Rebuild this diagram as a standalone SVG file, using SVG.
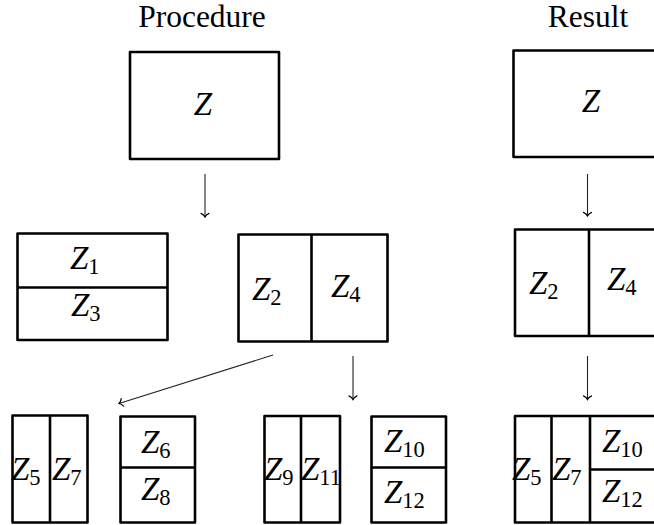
<svg xmlns="http://www.w3.org/2000/svg" width="654" height="525" viewBox="0 0 654 525">
  <defs>
    <style>
      .title { font-family: "Liberation Serif", "Times New Roman", serif; font-size: 31.5px; fill: #000; text-anchor: middle; }
      .lbl { font-family: "Liberation Serif", "Times New Roman", serif; font-size: 33px; fill: #000; }
      .m { font-style: italic; }
      .s { font-size: 22.5px; font-style: normal; }
      .box { fill: #fff; stroke: #000; stroke-width: 2.6; stroke-linejoin: round; }
      .div { stroke: #000; stroke-width: 2.6; fill: none; }
      .arr { stroke: #222; stroke-width: 1.1; fill: none; marker-end: url(#tip); }
    </style>
    <marker id="tip" viewBox="-5 -5 6 10" refX="0" refY="0" markerWidth="6" markerHeight="10" markerUnits="userSpaceOnUse" orient="auto">
      <path d="M-3.6,-4 C-2.6,-1.6 -1.1,-0.5 0,0 C-1.1,0.5 -2.6,1.6 -3.6,4" fill="none" stroke="#000" stroke-width="1.2" stroke-linecap="round"/>
    </marker>
  </defs>

  <rect width="654" height="525" fill="#fff"/>

  <!-- column headings -->
  <text class="title" x="202" y="27">Procedure</text>
  <text class="title" x="588" y="27">Result</text>

  <!-- procedure column -->
  <g id="z-root">
    <rect class="box" x="130" y="52" width="149" height="107"/>
    <text class="lbl" x="203" y="115" text-anchor="middle"><tspan class="m">Z</tspan></text>
  </g>

  <g id="z1-z3">
    <rect class="box" x="17.5" y="233.5" width="150" height="106.5"/>
    <line class="div" x1="17.5" y1="287.5" x2="167.5" y2="287.5"/>
    <text class="lbl" x="70" y="269"><tspan class="m">Z</tspan><tspan class="s" dy="4.5">1</tspan></text>
    <text class="lbl" x="71" y="316"><tspan class="m">Z</tspan><tspan class="s" dy="4.5">3</tspan></text>
  </g>

  <g id="z2-z4">
    <rect class="box" x="238.5" y="234.5" width="149" height="107"/>
    <line class="div" x1="311.5" y1="234.5" x2="311.5" y2="341.5"/>
    <text class="lbl" x="252" y="300"><tspan class="m">Z</tspan><tspan class="s" dy="4.5">2</tspan></text>
    <text class="lbl" x="331" y="297"><tspan class="m">Z</tspan><tspan class="s" dy="4.5">4</tspan></text>
  </g>

  <g id="z5-z7">
    <rect class="box" x="12.5" y="415.5" width="75" height="107"/>
    <line class="div" x1="50" y1="415.5" x2="50" y2="522.5"/>
    <text class="lbl" x="11" y="480"><tspan class="m">Z</tspan><tspan class="s" dy="4.5">5</tspan></text>
    <text class="lbl" x="52" y="480"><tspan class="m">Z</tspan><tspan class="s" dy="4.5">7</tspan></text>
  </g>

  <g id="z6-z8">
    <rect class="box" x="120.5" y="416.5" width="74.5" height="106"/>
    <line class="div" x1="120.5" y1="467.5" x2="195" y2="467.5"/>
    <text class="lbl" x="141" y="453"><tspan class="m">Z</tspan><tspan class="s" dy="4.5">6</tspan></text>
    <text class="lbl" x="141" y="500"><tspan class="m">Z</tspan><tspan class="s" dy="4.5">8</tspan></text>
  </g>

  <g id="z9-z11">
    <rect class="box" x="264.5" y="416" width="75.5" height="106.5"/>
    <line class="div" x1="301" y1="416" x2="301" y2="522.5"/>
    <text class="lbl" x="264" y="480"><tspan class="m">Z</tspan><tspan class="s" dy="4.5">9</tspan></text>
    <text class="lbl" x="301" y="480"><tspan class="m">Z</tspan><tspan class="s" dy="4.5">11</tspan></text>
  </g>

  <g id="z10-z12">
    <rect class="box" x="371.5" y="416.5" width="74.5" height="106"/>
    <line class="div" x1="371.5" y1="467.5" x2="446" y2="467.5"/>
    <text class="lbl" x="384" y="452"><tspan class="m">Z</tspan><tspan class="s" dy="4.5">10</tspan></text>
    <text class="lbl" x="384" y="503"><tspan class="m">Z</tspan><tspan class="s" dy="4.5">12</tspan></text>
  </g>

  <!-- result column -->
  <g id="r-root">
    <rect class="box" x="513.5" y="50.5" width="200" height="106.5"/>
    <text class="lbl" x="591" y="112" text-anchor="middle"><tspan class="m">Z</tspan></text>
  </g>

  <g id="r-z2-z4">
    <rect class="box" x="515" y="229.5" width="200" height="106.5"/>
    <line class="div" x1="589" y1="229.5" x2="589" y2="336"/>
    <text class="lbl" x="529" y="294"><tspan class="m">Z</tspan><tspan class="s" dy="4.5">2</tspan></text>
    <text class="lbl" x="607" y="290"><tspan class="m">Z</tspan><tspan class="s" dy="4.5">4</tspan></text>
  </g>

  <g id="r-leaves">
    <rect class="box" x="515" y="416" width="200" height="106.5"/>
    <line class="div" x1="551.5" y1="416" x2="551.5" y2="522.5"/>
    <line class="div" x1="590" y1="416" x2="590" y2="522.5"/>
    <line class="div" x1="590" y1="469.5" x2="660" y2="469.5"/>
    <text class="lbl" x="512" y="480"><tspan class="m">Z</tspan><tspan class="s" dy="4.5">5</tspan></text>
    <text class="lbl" x="552" y="480"><tspan class="m">Z</tspan><tspan class="s" dy="4.5">7</tspan></text>
    <text class="lbl" x="602" y="452"><tspan class="m">Z</tspan><tspan class="s" dy="4.5">10</tspan></text>
    <text class="lbl" x="602" y="502"><tspan class="m">Z</tspan><tspan class="s" dy="4.5">12</tspan></text>
  </g>

  <!-- connectors -->
  <g id="connectors">
    <line class="arr" x1="205" y1="174" x2="205" y2="217"/>
    <line class="arr" x1="587.5" y1="174" x2="587.5" y2="216"/>
    <line class="arr" x1="273" y1="355" x2="119" y2="403.5"/>
    <line class="arr" x1="353" y1="356" x2="353" y2="399.5"/>
    <line class="arr" x1="587.5" y1="356" x2="587.5" y2="399.5"/>
  </g>
</svg>
